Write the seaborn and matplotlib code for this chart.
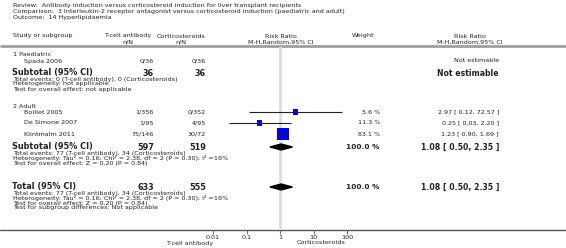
import matplotlib
matplotlib.use("Agg")
import matplotlib.pyplot as plt
import numpy as np
import pandas as pd
import seaborn as sns

sns.set_theme(style="white")
plt.rcParams['font.family'] = ['DejaVu Sans']

# ---------------- data ----------------
review = "Review:  Antibody induction versus corticosteroid induction for liver transplant recipients"
comparison = "Comparison:  3 Interleukin-2 receptor antagonist versus corticosteroid induction (paediatric and adult)"
outcome = "Outcome:  14 Hyperlipidaemia"

studies = ["Spada 2006", "Boillet 2005", "De Simone 2007", "Klintmalm 2011"]
groups = [1, 2, 2, 2]
tcell_nN = ["0/36", "1/356", "1/95", "75/146"]
cort_nN = ["0/36", "0/352", "4/95", "30/72"]
rr = [np.nan, 2.97, 0.25, 1.23]
rr_lo = [np.nan, 0.12, 0.03, 0.90]
rr_hi = [np.nan, 72.57, 2.20, 1.69]
weights = [np.nan, 5.6, 11.3, 83.1]
weight_lbl = ["", "5.6 %", "11.3 %", "83.1 %"]
rr_lbl = ["Not estimable", "2.97 [ 0.12, 72.57 ]", "0.25 [ 0.03, 2.20 ]", "1.23 [ 0.90, 1.69 ]"]

sub1 = dict(tN="36", cN="36", events="Total events: 0 (T-cell antibody), 0 (Corticosteroids)",
            het="Heterogeneity: not applicable", test="Test for overall effect: not applicable",
            rr_lbl="Not estimable")
sub2 = dict(tN="597", cN="519", events="Total events: 77 (T-cell antibody), 34 (Corticosteroids)",
            het="Heterogeneity: Tau\u00b2 = 0.16; Chi\u00b2 = 2.38, df = 2 (P = 0.30); I\u00b2 =16%",
            test="Test for overall effect: Z = 0.20 (P = 0.84)", weight="100.0 %",
            rr_lbl="1.08 [ 0.50, 2.35 ]", est=1.08, lo=0.50, hi=2.35)
total = dict(tN="633", cN="555", events="Total events: 77 (T-cell antibody), 34 (Corticosteroids)",
             het="Heterogeneity: Tau\u00b2 = 0.16; Chi\u00b2 = 2.38, df = 2 (P = 0.30); I\u00b2 =16%",
             test="Test for overall effect: Z = 0.20 (P = 0.84)",
             sub="Test for subgroup differences: Not applicable", weight="100.0 %",
             rr_lbl="1.08 [ 0.50, 2.35 ]", est=1.08, lo=0.50, hi=2.35)
ticks = [0.01, 0.1, 1, 10, 100]
tick_lbls = ["0.01", "0.1", "1", "10", "100"]
favours_left = "T-cell antibody"
favours_right = "Corticosteroids"

# ---------------- layout (pixels) ----------------
W, H = 566, 248
fig = plt.figure(figsize=(W / 100, H / 100), dpi=100)
axt = fig.add_axes([0, 0, 1, 1])
axt.set_xlim(0, W)
axt.set_ylim(H, 0)
axt.axis("off")

FS = 4.6
FSB = 5.9
TXT = "#222222"
X0, XI = 13, 24
XT, XC = 154, 206
XTH, XCH = 128, 181
XW, XWH = 380, 363
XR, XRH = 499, 470
XPLOT = 281

def t(x, y, s, ha="left", bold=False, size=None):
    axt.text(x, y, s, ha=ha, va="center", fontsize=size or (FSB if bold else FS),
             fontweight="bold" if bold else "normal", color=TXT)

t(X0, 5, review)
t(X0, 11, comparison)
t(X0, 17, outcome)

y_h1, y_h2, y_sep = 36, 42, 46
t(X0, y_h1, "Study or subgroup")
t(XTH, y_h1, "T-cell antibody", ha="center")
t(XTH, y_h2, "n/N", ha="center")
t(XCH, y_h1, "Corticosteroids", ha="center")
t(XCH, y_h2, "n/N", ha="center")
t(XPLOT, y_h1, "Risk Ratio", ha="center")
t(XPLOT, y_h2, "M-H,Random,95% CI", ha="center")
t(XWH, y_h1, "Weight", ha="center")
t(XRH, y_h1, "Risk Ratio", ha="center")
t(XRH, y_h2, "M-H,Random,95% CI", ha="center")
axt.plot([0, W], [y_sep, y_sep], color="#a0a0a0", lw=2, solid_capstyle="butt")

study_y = [61, 112, 123, 134]
t(X0, 55, "1 Paediatric")
t(X0, 106, "2 Adult")
for i, s in enumerate(studies):
    y = study_y[i]
    t(XI, y, s)
    t(XT, y, tcell_nN[i], ha="right")
    t(XC, y, cort_nN[i], ha="right")
    if weight_lbl[i]:
        t(XW, y, weight_lbl[i], ha="right")
    t(XR, y, rr_lbl[i], ha="right")

def block(y, title, d):
    t(X0 - 1, y, title, bold=True)
    t(XT, y, d["tN"], ha="right", bold=True)
    t(XC, y, d["cN"], ha="right", bold=True)
    if "weight" in d:
        t(XW, y, d["weight"], ha="right", bold=True, size=5.3)
    t(XR, y, d["rr_lbl"], ha="right", bold=True, size=5.6)
    lines = [d["events"], d["het"], d["test"]] + ([d["sub"]] if "sub" in d else [])
    for k, ln in enumerate(lines):
        t(X0, y + 6 + 5 * k, ln)

y_sub1, y_sub2, y_tot = 73, 147, 187
block(y_sub1, "Subtotal (95% CI)", sub1)
block(y_sub2, "Subtotal (95% CI)", sub2)
block(y_tot, "Total (95% CI)", total)

y_axis = 230

# ---------------- forest panel ----------------
xa, xb = 213, 347
axf = fig.add_axes([xa / W, 1 - y_axis / H, (xb - xa) / W, (y_axis - y_sep - 1) / H])
axf.set_xscale("log")
axf.set_xlim(0.01, 100)
axf.set_ylim(y_axis, y_sep + 1)
axf.patch.set_alpha(0)
for sp in axf.spines.values():
    sp.set_visible(False)
axf.axvline(1, color="#dddddd", lw=2, zorder=0)

df = pd.DataFrame(dict(study=studies, y=study_y, rr=rr, lo=rr_lo, hi=rr_hi, w=weights)).dropna()
axf.hlines(df["y"], df["lo"], df["hi"], color="#222222", lw=0.8, zorder=3)
sizes = (np.sqrt(df["w"] / 83.1) * 11) ** 2 * 0.55
sizes = np.maximum(sizes, 13)
sns.scatterplot(data=df, x="rr", y="y", marker="s", s=sizes.values, color="#0000ff",
                edgecolor="none", ax=axf, zorder=2, legend=False)
big = df.loc[df["w"].idxmax()]
axf.plot([big["rr"], big["rr"]], [big["y"] - 2, big["y"] + 2], color="#222222", lw=0.6, zorder=3)

for d, y in [(sub2, y_sub2), (total, y_tot)]:
    xs = [d["lo"], d["est"], d["hi"], d["est"], d["lo"]]
    ys = [y, y - 3, y, y + 3, y]
    axf.fill(xs, ys, color="black", zorder=3)

axf.set_xticks(ticks)
axf.set_xticklabels(tick_lbls)
axf.minorticks_off()
axf.set_yticks([])
axf.tick_params(axis="x", direction="out", length=3, width=0.6, color="#555555",
                labelsize=FS, labelcolor=TXT, pad=0.5, bottom=True)
axf.set_xlabel("")
axf.set_ylabel("")

# full-width axis line and favours labels
axt.plot([0, W], [y_axis, y_axis], color="#555555", lw=1)
t(213, 243, favours_left, ha="right")
t(297, 243, favours_right, ha="left")

fig.savefig("out.png", dpi=100)
